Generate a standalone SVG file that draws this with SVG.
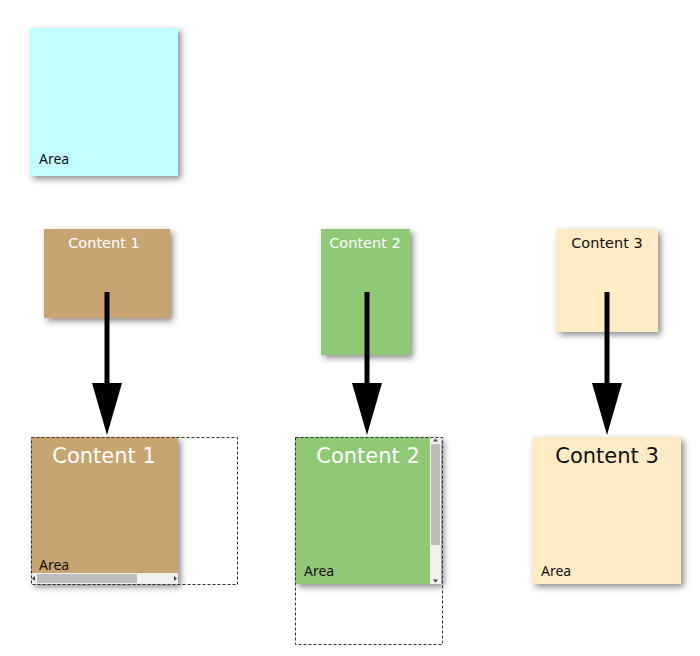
<svg xmlns="http://www.w3.org/2000/svg" width="700" height="656" viewBox="0 0 700 656">
<defs>
<filter id="sh" x="-20%" y="-20%" width="140%" height="140%">
<feDropShadow dx="3" dy="3" stdDeviation="3" flood-color="#000" flood-opacity="0.45"/>
</filter>
<marker id="ah" markerUnits="userSpaceOnUse" markerWidth="52" markerHeight="30" refX="2" refY="15" orient="auto" viewBox="0 0 52 30">
<path d="M0,0 L52,15 L0,30 Z" fill="#000"/>
</marker>
<style>
.area{font-family:"Noto Sans","Open Sans",sans-serif;font-size:14px;fill:#111}
.cs{font-family:"DejaVu Sans",Verdana,sans-serif;font-size:14.5px;text-anchor:middle}
.cl{font-family:"DejaVu Sans",Verdana,sans-serif;font-size:21px;text-anchor:middle}
.w{fill:#fff}.k{fill:#111}
.dash{fill:none;stroke:#333;stroke-width:1;stroke-dasharray:3,2}
.conn{stroke:#000;stroke-width:5;fill:none}
</style>
</defs>
<rect width="700" height="656" fill="#fff"/>
<g id="area">
<rect x="30" y="28" width="148" height="148" fill="#C4FFFF" filter="url(#sh)"/>
<text class="area" x="39" y="164">Area</text>
</g>
<g id="content1">
<rect x="44" y="229" width="126" height="89" fill="#C8A470" filter="url(#sh)"/>
<text class="cs w" x="104" y="248">Content 1</text>
</g>
<g id="content2">
<rect x="321" y="229" width="89" height="126" fill="#8FC975" filter="url(#sh)"/>
<text class="cs w" x="365" y="248">Content 2</text>
</g>
<g id="content3">
<rect x="556" y="229" width="102" height="103" fill="#FFEBC6" filter="url(#sh)"/>
<text class="cs k" x="607" y="248">Content 3</text>
</g>
<g id="connectors">
<line class="conn" x1="107" y1="292" x2="107" y2="385" marker-end="url(#ah)"/>
<line class="conn" x1="367" y1="292" x2="367" y2="385" marker-end="url(#ah)"/>
<line class="conn" x1="607" y1="292" x2="607" y2="385" marker-end="url(#ah)"/>
</g>
<g id="result1">
<rect x="31" y="437" width="147" height="147" fill="#C8A470" filter="url(#sh)"/>
<text class="cl w" x="104" y="463">Content 1</text>
<text class="area" x="39" y="570">Area</text>
<rect x="31" y="573" width="147" height="11" fill="#F0F0F0"/>
<rect x="37" y="574" width="100" height="9" fill="#BDBDBD"/>
<path d="M32,578.5 L35,576 L35,581 Z" fill="#444"/>
<path d="M177,578.5 L174,576 L174,581 Z" fill="#444"/>
<rect class="dash" x="31.5" y="437.5" width="206" height="147"/>
</g>
<g id="result2">
<rect x="295" y="437" width="146" height="147" fill="#8FC975" filter="url(#sh)"/>
<text class="cl w" x="368" y="463">Content 2</text>
<text class="area" x="304" y="576">Area</text>
<rect x="430" y="437" width="11" height="147" fill="#F0F0F0"/>
<rect x="431" y="444" width="9" height="101" fill="#BDBDBD"/>
<path d="M435.5,438.5 L433,441.5 L438,441.5 Z" fill="#444"/>
<path d="M435.5,582.5 L433,579.5 L438,579.5 Z" fill="#444"/>
<rect class="dash" x="295.5" y="437.5" width="147" height="207"/>
</g>
<g id="result3">
<rect x="532" y="437" width="149" height="147" fill="#FFEBC6" filter="url(#sh)"/>
<text class="cl k" x="607" y="463">Content 3</text>
<text class="area" x="541" y="576">Area</text>
</g>
</svg>
